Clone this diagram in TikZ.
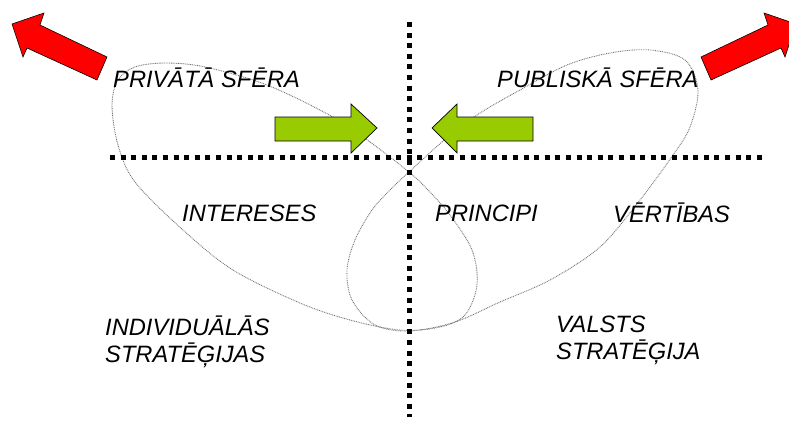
\documentclass[tikz,border=0pt]{standalone}
\usepackage{fontspec}
\setmainfont{Liberation Sans}
\begin{document}
\begin{tikzpicture}[x=0.03cm,y=-0.03cm,
  lbl/.style={font=\fontsize{20.2}{23}\selectfont\itshape, inner sep=0pt, align=left},
  axis/.style={line width=4.27pt, dash pattern=on 4.27pt off 4.78pt},
  loop/.style={draw=black!55, line width=0.75pt, dash pattern=on 0.75pt off 0.75pt},
  redarrow/.style={fill=red, draw=black, line width=0.5pt, line join=miter},
  greenarrow/.style={fill={rgb,255:red,153;green,204;blue,0}, draw=black, line width=0.6pt, line join=miter}]
\useasboundingbox (0,0) rectangle (789,421);
\clip (0,0) rectangle (789,421);
% loops
\draw[loop] plot[smooth cycle, tension=0.55] coordinates {
  (409,172) (370,142) (333,117) (267,85) (205,67) (165,63) (135,67) (118,80) (112,105) (118,145)
  (135,182) (183,230) (233,270) (300,303) (350,320) (400,330) (440,327) (465,315) (477,285)
  (472,250) (450,215) (428,190)};
\draw[loop] plot[smooth cycle, tension=0.55] coordinates {
  (409,172) (442,142) (477,115) (520,90) (567,65) (610,53) (650,50) (685,60) (698,90) (690,127)
  (673,155) (640,200) (600,247) (550,280) (500,302) (455,322) (410,331) (375,325) (352,300)
  (347,270) (355,240) (372,210) (392,188)};
% axes
\coordinate (vt) at (409,22);
\coordinate (vb) at (409,417);
\coordinate (hl) at (110,157);
\coordinate (hr) at (762,157);
\draw[axis] (vt) -- (vb);
\draw[axis] (hl) -- (hr);
% green arrows
\draw[greenarrow] (275,117) -- (351,117) -- (351,104) -- (377,128) -- (351,153) -- (351,141) -- (275,141) -- cycle;
\draw[greenarrow] (533,117) -- (457,117) -- (457,104) -- (432,128) -- (457,153) -- (457,141) -- (533,141) -- cycle;
% red arrows
\draw[redarrow] (12,24) -- (44,13) -- (40,25) -- (107,57) -- (97,80) -- (27,48) -- (23,57) -- cycle;
\draw[redarrow] (796,24) -- (764,13) -- (768,25) -- (701,57) -- (711,80) -- (781,48) -- (785,57) -- cycle;
% labels
\node[lbl, anchor=west] (priv) at (113,78) {PRIVĀTĀ SFĒRA};
\node[lbl, anchor=west] (publ) at (497,78) {PUBLISKĀ SFĒRA};
\node[lbl, anchor=west] (int) at (182,213) {INTERESES};
\node[lbl, anchor=west] (prin) at (435,213) {PRINCIPI};
\node[lbl, anchor=west] (vert) at (613,213) {VĒRTĪBAS};
\node[lbl, anchor=north west] (ind) at (105,316) {INDIVIDUĀLĀS\\STRATĒĢIJAS};
\node[lbl, anchor=north west] (val) at (556,316) {VALSTS\\STRATĒĢIJA};
\end{tikzpicture}
\end{document}
